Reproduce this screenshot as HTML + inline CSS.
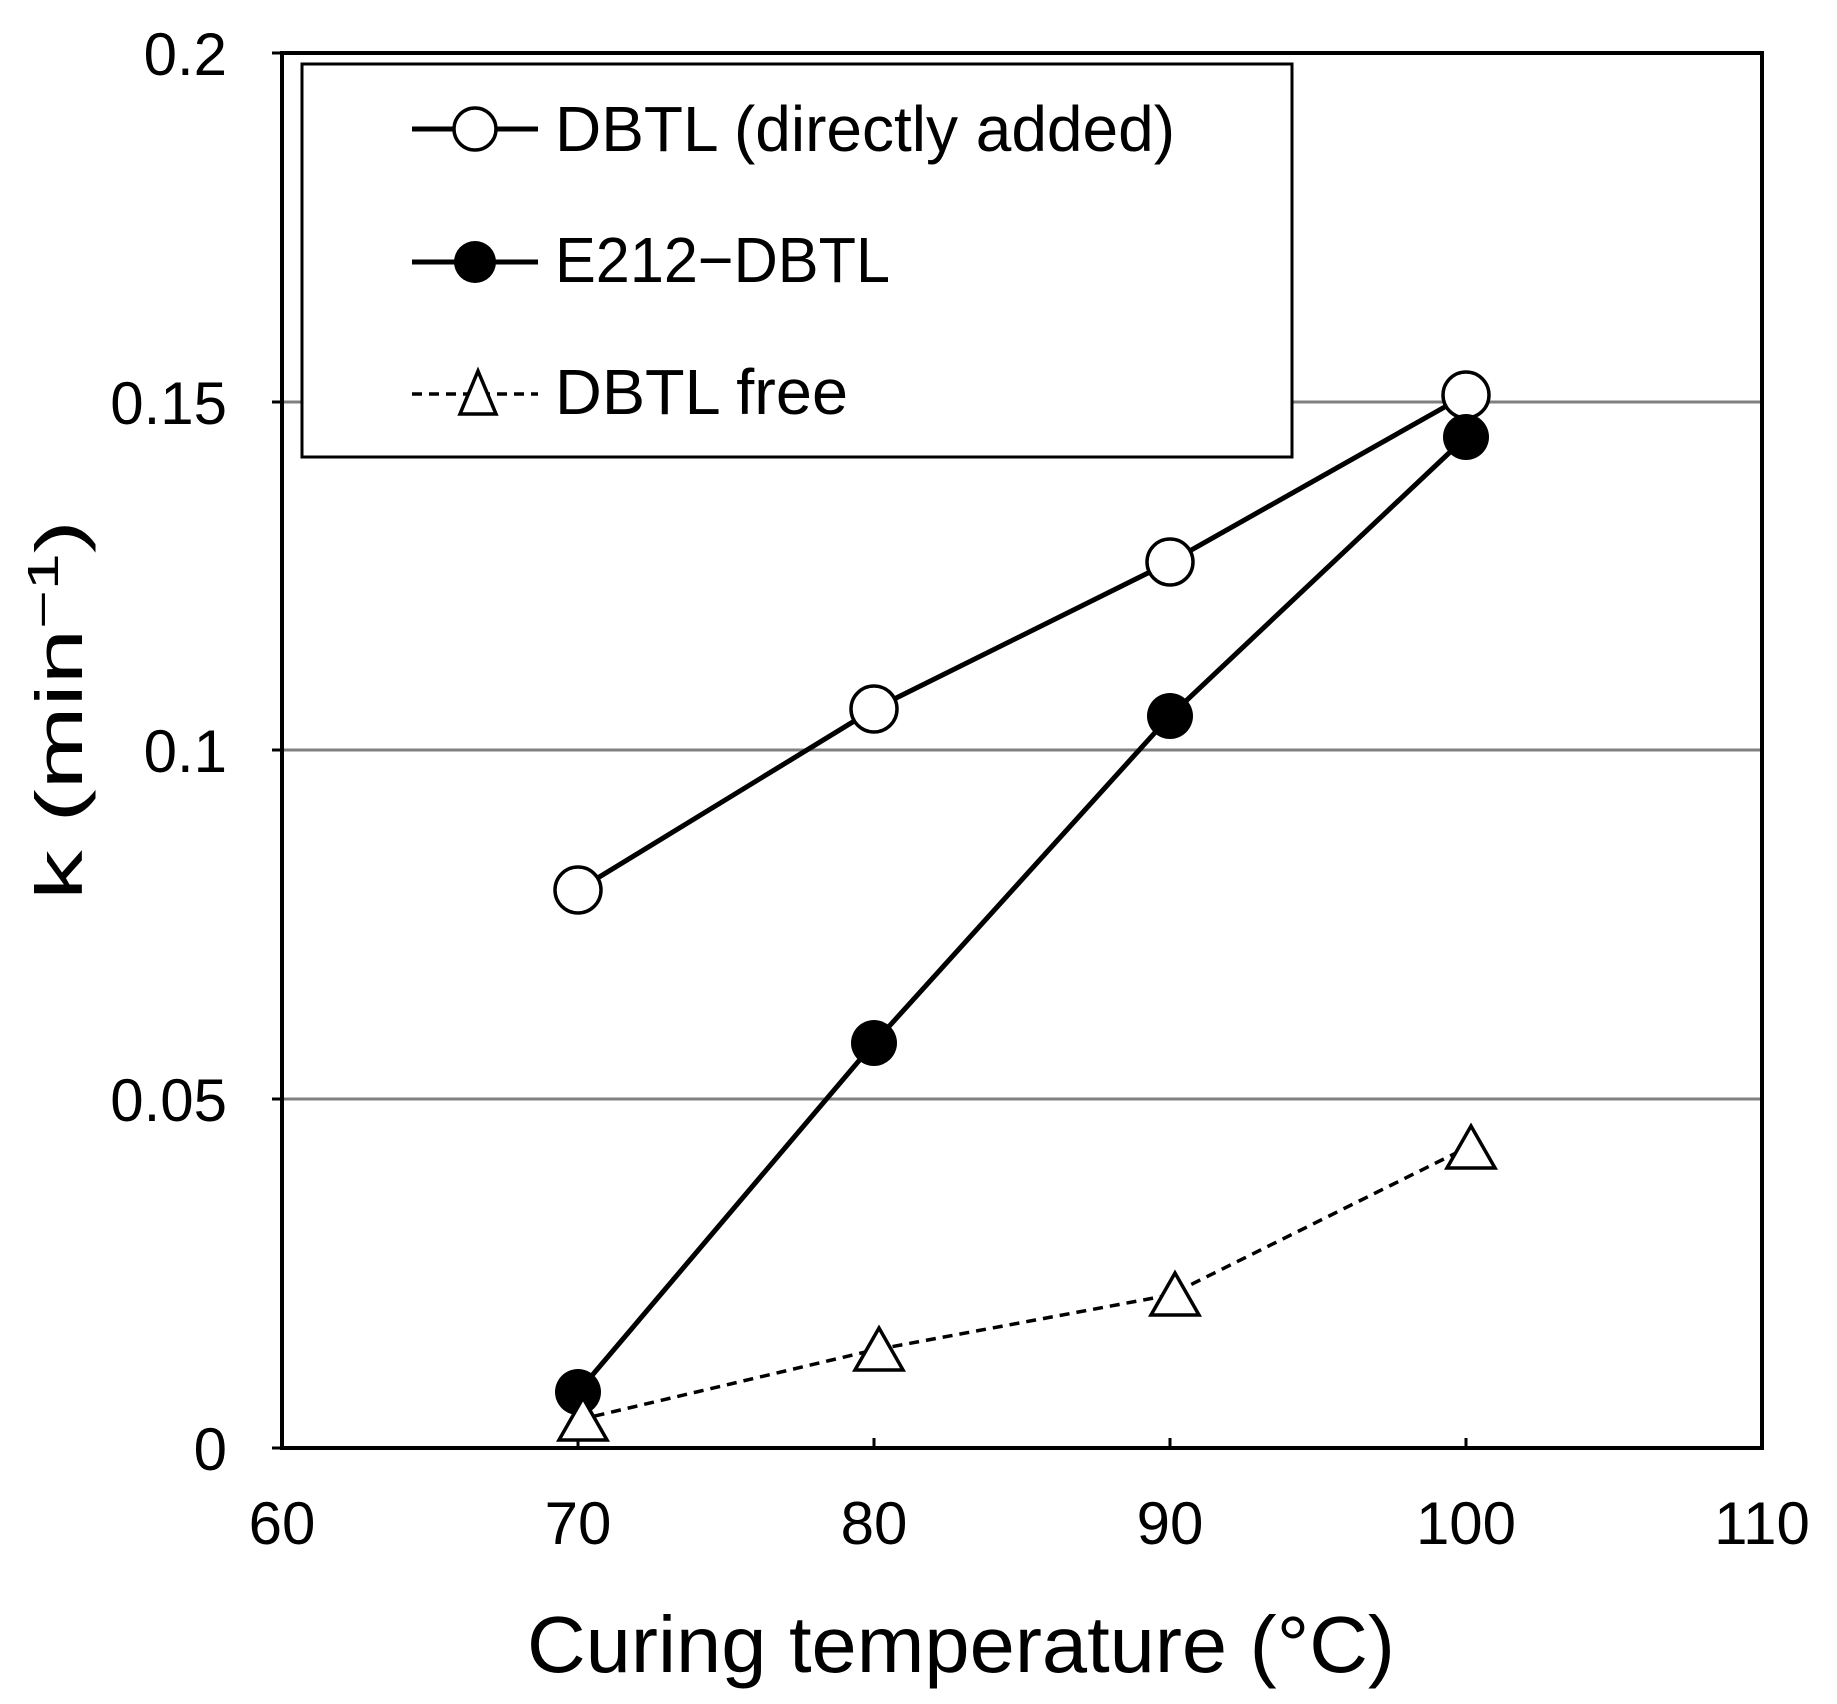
<!DOCTYPE html>
<html><head><meta charset="utf-8"><style>html,body{margin:0;padding:0;background:#fff}</style></head>
<body>
<svg width="1837" height="1699" viewBox="0 0 1837 1699" xmlns="http://www.w3.org/2000/svg" font-family="'Liberation Sans', sans-serif">
<rect width="1837" height="1699" fill="#fff"/>
<g stroke="#808080" stroke-width="3">
<line x1="282" y1="1099" x2="1762" y2="1099"/>
<line x1="282" y1="750" x2="1762" y2="750"/>
<line x1="282" y1="402" x2="1762" y2="402"/>
</g>
<rect x="282" y="53" width="1480" height="1395" fill="none" stroke="#000" stroke-width="4"/>
<g stroke="#000" stroke-width="3">
<line x1="272" y1="1448" x2="282" y2="1448"/><line x1="272" y1="1099" x2="282" y2="1099"/>
<line x1="272" y1="750" x2="282" y2="750"/><line x1="272" y1="402" x2="282" y2="402"/><line x1="272" y1="53" x2="282" y2="53"/>
<line x1="578" y1="1448" x2="578" y2="1438"/><line x1="874" y1="1448" x2="874" y2="1438"/>
<line x1="1170" y1="1448" x2="1170" y2="1438"/><line x1="1466" y1="1448" x2="1466" y2="1438"/>
</g>
<g font-size="60" text-anchor="end">
<text x="227" y="1470">0</text><text x="227" y="1121">0.05</text><text x="227" y="772">0.1</text>
<text x="227" y="424">0.15</text><text x="227" y="75">0.2</text>
</g>
<g font-size="60" text-anchor="middle">
<text x="282" y="1544">60</text><text x="578" y="1544">70</text><text x="874" y="1544">80</text>
<text x="1170" y="1544">90</text><text x="1466" y="1544">100</text><text x="1762" y="1544">110</text>
</g>
<text x="527" y="1672" font-size="80" textLength="868" lengthAdjust="spacingAndGlyphs">Curing temperature (°C)</text>
<text transform="translate(82,900) rotate(-90)" font-size="66" textLength="380" lengthAdjust="spacingAndGlyphs">k  (min<tspan dy="-24" font-size="44">−1</tspan><tspan dy="24">)</tspan></text>
<polyline points="578,890 874,709 1170,562 1466,395" fill="none" stroke="#000" stroke-width="5"/>
<polyline points="578,1392 874,1043 1170,716 1466,437" fill="none" stroke="#000" stroke-width="5"/>
<polyline points="578,1420 874,1350 1170,1295 1466,1148" fill="none" stroke="#000" stroke-width="3.5" stroke-dasharray="10,7"/>
<g fill="#fff" stroke="#000" stroke-width="3.5">
<circle cx="578" cy="890" r="23"/><circle cx="874" cy="709" r="23"/><circle cx="1170" cy="562" r="23"/><circle cx="1466" cy="395" r="23"/>
</g>
<g fill="#000">
<circle cx="578" cy="1392" r="23"/><circle cx="874" cy="1043" r="23"/><circle cx="1170" cy="716" r="23"/><circle cx="1466" cy="437" r="23"/>
</g>
<g fill="#fff" stroke="#000" stroke-width="3.5">
<polygon points="583,1398 607,1440 559,1440"/>
<polygon points="879,1328 903,1370 855,1370"/>
<polygon points="1175,1273 1199,1315 1151,1315"/>
<polygon points="1471,1126 1495,1168 1447,1168"/>
</g>
<rect x="302" y="64" width="990" height="393" fill="#fff" stroke="#000" stroke-width="3"/>
<line x1="412" y1="129" x2="538" y2="129" stroke="#000" stroke-width="5"/>
<circle cx="475" cy="129" r="21" fill="#fff" stroke="#000" stroke-width="3.5"/>
<line x1="412" y1="262" x2="538" y2="262" stroke="#000" stroke-width="5"/>
<circle cx="475" cy="262" r="21" fill="#000"/>
<line x1="412" y1="394" x2="538" y2="394" stroke="#000" stroke-width="3.5" stroke-dasharray="10,7"/>
<polygon points="478,371 496,414 460,414" fill="#fff" stroke="#000" stroke-width="3.5"/>
<g font-size="64">
<text x="555" y="151" textLength="620" lengthAdjust="spacingAndGlyphs">DBTL (directly added)</text>
<text x="555" y="282" textLength="335" lengthAdjust="spacingAndGlyphs">E212−DBTL</text>
<text x="555" y="414" textLength="293" lengthAdjust="spacingAndGlyphs">DBTL free</text>
</g>
</svg>
</body></html>
